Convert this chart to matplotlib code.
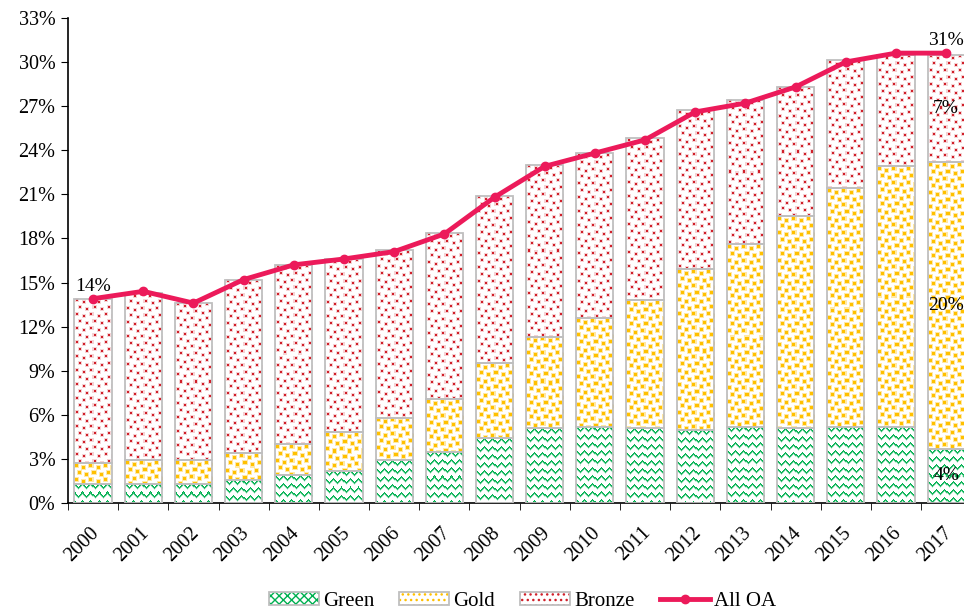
import matplotlib
matplotlib.use("Agg")
import matplotlib.pyplot as plt
import numpy as np
from matplotlib.patches import Patch
from matplotlib.lines import Line2D
from matplotlib.colors import to_rgb
from matplotlib.legend_handler import HandlerTuple
import matplotlib.transforms as mtransforms

years = [str(y) for y in range(2000, 2018)]
green = [1.3, 1.3, 1.3, 1.6, 1.9, 2.2, 2.9, 3.5, 4.4, 5.1, 5.2, 5.1, 5.0, 5.2, 5.1, 5.2, 5.2, 3.7]
gold = [1.4, 1.6, 1.6, 1.8, 2.1, 2.6, 2.9, 3.6, 5.1, 6.2, 7.4, 8.7, 10.9, 12.4, 14.4, 16.2, 17.7, 19.5]
bronze = [11.2, 11.4, 10.7, 11.8, 12.2, 11.8, 11.4, 11.3, 11.4, 11.7, 11.2, 11.0, 10.8, 9.8, 8.8, 8.7, 7.6, 7.3]
all_oa = [13.9, 14.4, 13.6, 15.2, 16.2, 16.6, 17.1, 18.3, 20.8, 22.9, 23.8, 24.7, 26.6, 27.2, 28.3, 30.0, 30.6, 30.6]
yticks = list(range(0, 34, 3))

plt.rcParams['font.family'] = ['Liberation Serif', 'DejaVu Serif']
plt.rcParams['font.size'] = 14.5

C_GREEN = '#00B050'
C_GOLD = '#FFC000'
C_BRONZE = '#D0202A'
C_LINE = '#EC1A5A'
C_EDGE = '#BFBFBF'

FW, FH = 964, 615
fig = plt.figure(figsize=(FW / 100, FH / 100), dpi=100)
AX = [0.0705, 0.182, 0.937, 0.789]
ax = fig.add_axes(AX)

XL = (-0.5, len(years) - 0.5)
YL = (0, 33)
ax.set_xlim(*XL)
ax.set_ylim(*YL)

# ---- texture tiles (pixel patterns, styling only) ----
def make_tile(h, w, cells, size, halo):
    t = np.zeros((h, w))
    for r, c in cells:
        for dr in range(-1, size + 1):
            for dc in range(-1, size + 1):
                inside = 0 <= dr < size and 0 <= dc < size
                v = 1.0 if inside else halo
                rr, cc = (r + dr) % h, (c + dc) % w
                t[rr, cc] = max(t[rr, cc], v)
    return t

bronze_tile = make_tile(14, 14, [(1, 2), (3, 9), (8, 5), (10, 12)], 2, 0.2)
gold_tile = make_tile(14, 14, [(1, 1), (3, 8), (8, 4), (10, 11)], 3, 0.35)
green_tile = np.zeros((8, 8))
zig = [0, 1, 2, 3, 4, 3, 2, 1]
for c, r in enumerate(zig):
    green_tile[r, c] = 1
    green_tile[(r + 1) % 8, c] = 0.8
    green_tile[(r + 2) % 8, c] = max(green_tile[(r + 2) % 8, c], 0.2)

def texture(tile, color, h, w):
    reps = (h // tile.shape[0] + 1, w // tile.shape[1] + 1)
    m = np.tile(tile, reps)[:h, :w][..., None]
    col = np.array(to_rgb(color))[None, None, :]
    rgb = (1 - m) * 1.0 + m * col
    return np.clip(rgb, 0, 1)

x = np.arange(len(years))
w = 0.74
g = np.array(green)
go = np.array(gold)
b = np.array(bronze)

def tbar(bottom, vals, tile, color):
    bars = ax.bar(x, vals, w, bottom=bottom, color='white', linewidth=0, zorder=2)
    for p in bars:
        bb = p.get_bbox()
        (px0, py0), (px1, py1) = ax.transData.transform([(bb.x0, bb.y0), (bb.x1, bb.y1)])
        hp = max(1, int(round(py1 - py0)))
        wp = max(1, int(round(px1 - px0)))
        ax.imshow(texture(tile, color, hp, wp), extent=(bb.x0, bb.x1, bb.y0, bb.y1),
                  aspect='auto', interpolation='nearest', zorder=2.5)
    ax.bar(x, vals, w, bottom=bottom, fill=False, edgecolor=C_EDGE, linewidth=1.3, zorder=3)

tbar(0, g, green_tile, C_GREEN)
tbar(g, go, gold_tile, C_GOLD)
tbar(g + go, b, bronze_tile, C_BRONZE)

ax.plot(x, all_oa, color=C_LINE, lw=3.5, marker='o', ms=6, zorder=5)

ax.set_xlim(*XL)
ax.set_ylim(*YL)
ax.set_yticks(yticks)
ax.set_yticklabels([f'{v}%' for v in yticks])
ax.set_xticks(x)
ax.set_xticklabels([])
trans = mtransforms.blended_transform_factory(ax.transData, ax.transAxes) + \
    mtransforms.ScaledTranslation(0.03, -0.27, fig.dpi_scale_trans)
for xi, lab in zip(x, years):
    ax.text(xi, 0, lab, transform=trans, rotation=45, ha='right', va='center',
            rotation_mode='anchor', fontsize=14.5, clip_on=False)
ax.set_xticks(np.arange(-0.5, len(years), 1), minor=True)
ax.tick_params(axis='x', which='major', length=0)
ax.tick_params(axis='x', which='minor', length=5, direction='out')
ax.tick_params(axis='y', length=5, direction='out', pad=4)
for s in ['top', 'right']:
    ax.spines[s].set_visible(False)
ax.spines['left'].set_linewidth(1.2)
ax.spines['bottom'].set_linewidth(1.2)

# data labels
fs = 14
ax.text(x[0], all_oa[0] + 0.25, f'{all_oa[0]:.0f}%', ha='center', va='bottom', fontsize=fs)
ax.text(x[-1], all_oa[-1] + 0.25, f'{all_oa[-1]:.0f}%', ha='center', va='bottom', fontsize=fs)
ax.text(x[-1], g[-1] / 2, f'{g[-1]:.0f}%', ha='center', va='center', fontsize=fs)
ax.text(x[-1], g[-1] + go[-1] / 2, f'{go[-1]:.0f}%', ha='center', va='center', fontsize=fs)
ax.text(x[-1], g[-1] + go[-1] + b[-1] / 2, f'{b[-1]:.0f}%', ha='center', va='center', fontsize=fs)

def lpatch(color, hatch, hlw):
    with plt.rc_context({'hatch.linewidth': hlw}):
        p = Patch(facecolor='white', edgecolor=color, hatch=hatch, linewidth=0)
    if hasattr(p, 'set_hatch_linewidth'):
        p.set_hatch_linewidth(hlw)
    edge = Patch(facecolor='none', edgecolor=C_EDGE, linewidth=1.3)
    return (p, edge)

handles = [lpatch(C_GREEN, 'xxxx', 0.7), lpatch(C_GOLD, '...', 2.2), lpatch(C_BRONZE, '...', 0.9),
           Line2D([], [], color=C_LINE, lw=3.5, marker='o', ms=6)]
fig.legend(handles, ['Green', 'Gold', 'Bronze', 'All OA'], loc='center',
           bbox_to_anchor=(0.542, 0.022), ncol=4, frameon=False, handlelength=2.4,
           handleheight=0.6, columnspacing=1.2, handletextpad=0.2, fontsize=15,
           handler_map={tuple: HandlerTuple(ndivide=1, pad=0)})

fig.savefig('out.png', dpi=100)
